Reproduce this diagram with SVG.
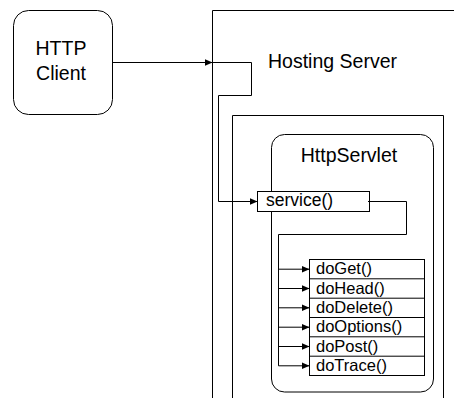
<svg xmlns="http://www.w3.org/2000/svg" width="454" height="398" viewBox="0 0 454 398">
<style>
.s{fill:none;stroke:#000;stroke-width:1}
.w{fill:#fff;stroke:#000;stroke-width:1}
text{font-family:"Liberation Sans",Arial,sans-serif;fill:#000}
.big{font-size:19.5px}
.svc{font-size:17.5px}
.m{font-size:16.5px}
</style>
<defs>
<marker id="arr" markerUnits="userSpaceOnUse" markerWidth="10" markerHeight="10" refX="8" refY="5" orient="auto">
<path d="M0,1.5 L8,5 L0,8.5 Z" fill="#000"/>
</marker>
</defs>
<rect width="454" height="398" fill="#fff"/>
<g id="hosting-server">
<path class="s" d="M212.5,398 V10.5 H454"/>
<text class="big" x="268" y="68">Hosting Server</text>
</g>
<g id="container">
<path class="s" d="M232.5,398 V115.5 H443.5 V398"/>
</g>
<g id="http-client">
<rect class="w" x="13.5" y="10.5" width="99" height="104" rx="15" ry="15"/>
<text class="big" x="61" y="55" text-anchor="middle">HTTP</text>
<text class="big" x="61" y="80" text-anchor="middle">Client</text>
</g>
<g id="httpservlet">
<rect class="w" x="271.5" y="134.5" width="162" height="257.5" rx="13" ry="13"/>
<text class="big" x="349" y="162" text-anchor="middle">HttpServlet</text>
</g>
<g id="service">
<rect class="w" x="257.5" y="191.5" width="112" height="20"/>
<text class="svc" x="266" y="206">service()</text>
</g>
<g id="methods">
<rect class="w" x="309.5" y="259.5" width="115" height="116"/>
<path class="s" d="M309.5,278.8 H424.5 M309.5,298.2 H424.5 M309.5,317.5 H424.5 M309.5,336.8 H424.5 M309.5,356.2 H424.5"/>
<text class="m" x="316" y="274.3">doGet()</text>
<text class="m" x="316" y="293.6">doHead()</text>
<text class="m" x="316" y="313">doDelete()</text>
<text class="m" x="316" y="332.3">doOptions()</text>
<text class="m" x="316" y="351.6">doPost()</text>
<text class="m" x="316" y="371">doTrace()</text>
</g>
<g id="connectors">
<path class="s" d="M112.5,62.5 H212.5" marker-end="url(#arr)"/>
<path class="s" d="M212.5,62.5 H251.5 V95.5 H218.5 V201.5 H257.5" marker-end="url(#arr)"/>
<path class="s" d="M368,201.5 H406.5 V234.5 H278.5 V365.8"/>
<path class="s" d="M278.5,269.2 H309.5" marker-end="url(#arr)"/>
<path class="s" d="M278.5,288.5 H309.5" marker-end="url(#arr)"/>
<path class="s" d="M278.5,307.8 H309.5" marker-end="url(#arr)"/>
<path class="s" d="M278.5,327.2 H309.5" marker-end="url(#arr)"/>
<path class="s" d="M278.5,346.5 H309.5" marker-end="url(#arr)"/>
<path class="s" d="M278.5,365.8 H309.5" marker-end="url(#arr)"/>
</g>
</svg>
